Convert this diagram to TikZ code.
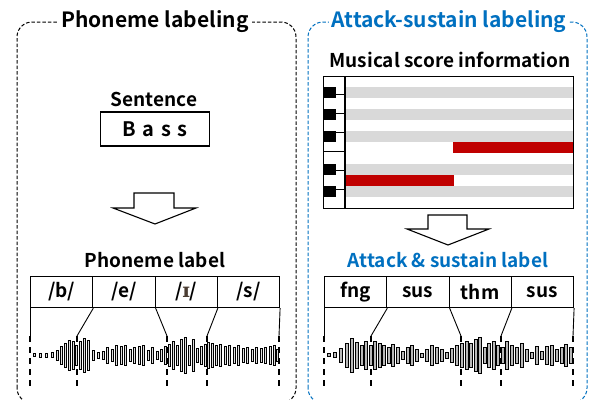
\documentclass[tikz,border=0pt]{standalone}
\usepackage{fontspec}
\setmainfont{Noto Sans CJK JP}[BoldFont={Noto Sans CJK JP Bold}]
\newfontfamily\ipafont{DejaVu Serif}
\definecolor{myblue}{HTML}{0070C0}
\definecolor{myred}{HTML}{C00000}
\definecolor{mygray}{HTML}{D9D9D9}
\definecolor{ipacol}{HTML}{4A3C32}
\tikzset{
  framebox/.style={dashed, dash pattern=on 3.5pt off 2pt, line width=1pt, rounded corners=15pt},
  boxtitle/.style={fill=white, inner xsep=3pt, inner ysep=1pt, font=\bfseries\fontsize{21}{24}\selectfont},
  heading/.style={font=\bfseries\fontsize{19}{22}\selectfont, inner sep=0pt},
  cell/.style={draw, line width=1.1pt, minimum width=62.25pt, minimum height=31pt, anchor=north west, inner sep=0pt, font=\bfseries\fontsize{19}{22}\selectfont},
  conn/.style={line width=0.9pt},
  dconn/.style={line width=1.1pt, dash pattern=on 6pt off 5pt},
  bigarrow/.style={draw, line width=1.1pt, fill=white},
  lbar/.style={draw=black, line width=0.55pt, fill=gray!25},
  rbar/.style={draw=black, line width=0.8pt, fill=gray!55},
}
\begin{document}
\begin{tikzpicture}[x=1pt,y=-1pt]
\useasboundingbox (0,0) rectangle (589,399);

% ---------- frames ----------
\draw[framebox] (17,403) rectangle (296,22);
\draw[framebox, myblue] (308,403) rectangle (587,22);
\node[boxtitle] (ltitle) at (155,22) {Phoneme labeling};
\node[boxtitle, text=myblue] (rtitle) at (449,22) {Attack-sustain labeling};

% ---------- left: sentence ----------
\node[heading] (sent) at (154,99) {Sentence};
\node[draw, line width=1.1pt, minimum width=109pt, minimum height=34pt, inner sep=0pt,
      font=\bfseries\fontsize{20}{24}\selectfont] (bass) at (155,129) {B\hspace{0.32em}a\hspace{0.32em}s\hspace{0.32em}s};

\draw[bigarrow] (134,193) -- (174,193) -- (174,208) -- (196,208) -- (155,224) -- (113,208) -- (134,208) -- cycle;

\node[heading] (plabel) at (155,260) {Phoneme label};
\node[cell] (p1) at (30,276) {/b/};
\node[cell] (p2) at (92.25,276) {/e/};
\node[cell] (p3) at (154.5,276) {/{\ipafont\bfseries\fontsize{20}{22}\selectfont\color{ipacol}ɪ}/};
\node[cell] (p4) at (216.75,276) {/s/};

\coordinate (lw0) at (30,336);
\coordinate (lw1) at (77,336);
\coordinate (lw2) at (167,336);
\coordinate (lw3) at (207,336);
\coordinate (lw4) at (279,336);
\coordinate (ld0) at (30,386);
\coordinate (ld1) at (77,386);
\coordinate (ld2) at (167,386);
\coordinate (ld3) at (207,386);
\coordinate (ld4) at (279,386);
\draw[conn] (p1.south west) -- (lw0);
\draw[conn] (p1.south east) -- (lw1);
\draw[conn] (p2.south east) -- (lw2);
\draw[conn] (p3.south east) -- (lw3);
\draw[conn] (p4.south east) -- (lw4);
\foreach \i in {0,...,4} \draw[dconn] (lw\i) -- (ld\i);

\foreach \x/\h in {34/1.5, 40/2, 46/2, 52/2.5, 57/5, 61/9, 65/12, 69/15, 73/14, 76/10, 80/14, 84/17, 88/15, 93/5, 98/3, 103/4, 107/8, 112/6, 116/10, 121/9, 125/10, 130/6, 134/8, 139/9, 143/10, 148/5, 152/8, 157/4, 161/6, 165/9, 169/11, 173/14, 177/10, 181/16, 185/18, 189/10, 193/16, 197/7, 201/9, 205/11, 208/13, 212/12, 216/10, 220/11, 225/9, 229/10, 234/8, 238/10, 243/7, 247/8, 252/6, 256/8, 261/7, 265/8, 270/9, 274/10, 277/6}
  \draw[lbar] ({\x-0.9},{355-\h}) rectangle ({\x+0.9},{355+\h});

% ---------- right: musical score ----------
\node[heading] (score) at (450,60) {Musical score information};
% gray rows (black-key rows)
\foreach \r in {1,3,5,8,10}
  \fill[mygray] (345,{76+11*\r}) rectangle (573,{76+11*(\r+1)});
\fill[myred] (453,142) rectangle (573,153);
\fill[myred] (345,175) rectangle (454,186);
% white key boundaries
\foreach \k in {1,...,6}
  \draw[line width=0.9pt] (323,{76+\k*132/7}) -- (345,{76+\k*132/7});
% black keys
\foreach \r in {1,3,5,8,10}
  \fill[black] (323,{76+11*\r}) rectangle (336,{76+11*(\r+1)});
\draw[line width=1.1pt] (345,76) -- (345,208);
\node[draw, line width=1.1pt, minimum width=250pt, minimum height=132pt, inner sep=0pt, anchor=north west] (roll) at (323,76) {};

\draw[bigarrow] (428,215) -- (467,215) -- (467,229) -- (489,229) -- (448,245) -- (407,229) -- (428,229) -- cycle;

\node[heading, text=myblue] (aslabel) at (448,260) {Attack \& sustain label};
\node[cell] (a1) at (324,276) {fng};
\node[cell] (a2) at (386.25,276) {sus};
\node[cell] (a3) at (448.5,276) {thm};
\node[cell] (a4) at (510.75,276) {sus};

\coordinate (rw0) at (324,336);
\coordinate (rw1) at (371,336);
\coordinate (rw2) at (461,336);
\coordinate (rw3) at (501,336);
\coordinate (rw4) at (573,336);
\coordinate (rd0) at (324,386);
\coordinate (rd1) at (371,386);
\coordinate (rd2) at (461,386);
\coordinate (rd3) at (501,386);
\coordinate (rd4) at (573,386);
\draw[conn] (a1.south west) -- (rw0);
\draw[conn] (a1.south east) -- (rw1);
\draw[conn] (a2.south east) -- (rw2);
\draw[conn] (a3.south east) -- (rw3);
\draw[conn] (a4.south east) -- (rw4);
\foreach \i in {0,...,4} \draw[dconn] (rw\i) -- (rd\i);

\foreach \x/\h in {329/1.5, 335/2.5, 341/7, 347/12, 352/17, 357/13, 362/10, 366/14, 371/10, 375/14, 380/12, 384/10, 389/8, 393/11, 398/8, 403/4, 408/8, 412/10, 417/6, 422/2, 427/6, 432/10, 437/8, 442/6, 447/3, 452/7, 457/10, 462/12, 467/14, 471/12, 476/16, 480/18, 485/8, 489/12, 494/14, 498/10, 503/8, 507/14, 512/10, 517/8, 522/12, 527/6, 532/3, 537/9, 542/4, 547/9, 552/10, 557/6, 562/8, 566/11, 571/8}
  \draw[rbar] ({\x-1.2},{355-\h}) rectangle ({\x+1.2},{355+\h});
\end{tikzpicture}
\end{document}
